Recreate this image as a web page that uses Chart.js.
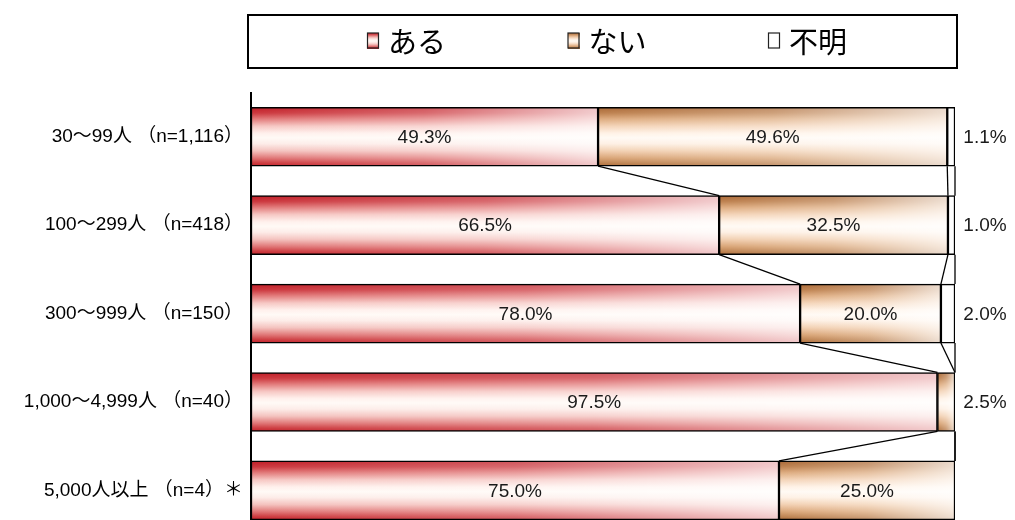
<!DOCTYPE html>
<html lang="ja">
<head>
<meta charset="utf-8">
<title>企業規模別の状況</title>
<script src="https://cdn.jsdelivr.net/npm/chart.js@4.4.1/dist/chart.umd.min.js"></script>
<style>
  html, body { margin: 0; padding: 0; background: #fff; overflow: hidden; }
  #wrap { width: 1015px; height: 520px; overflow: hidden; }
  canvas { display: block; }
</style>
</head>
<body>
<div id="wrap"><canvas id="chart" width="1015" height="554"></canvas></div>
<script>
// Categories (company size) and the share of each answer, in percent
const categories = [
  '30～99人 （n=1,116）',
  '100～299人 （n=418）',
  '300～999人 （n=150）',
  '1,000～4,999人 （n=40）',
  '5,000人以上 （n=4）＊'
];
const seriesNames = ['ある', 'ない', '不明'];
const valuesAru   = [49.3, 66.5, 78.0, 97.5, 75.0];
const valuesNai   = [49.6, 32.5, 20.0,  2.5, 25.0];
const valuesFumei = [ 1.1,  1.0,  2.0,  0.0,  0.0];

const FONT = "'Liberation Sans', 'Noto Sans CJK JP', sans-serif";
const CJK_FONT = "'Noto Sans CJK JP', sans-serif";
const BAR = 59;

// vertical colour profiles for each answer (edge -> centre -> edge)
const profiles = [
  [[0, 'rgb(192,28,38)'], [0.1, 'rgb(204,56,62)'], [0.2, 'rgb(226,122,122)'], [0.32, 'rgb(246,198,194)'],
   [0.44, 'rgb(255,240,236)'], [0.52, 'rgb(255,250,246)'], [0.62, 'rgb(253,236,232)'], [0.74, 'rgb(244,194,190)'],
   [0.86, 'rgb(224,118,118)'], [0.94, 'rgb(206,62,66)'], [1, 'rgb(194,32,42)']],
  [[0, 'rgb(170,104,54)'], [0.1, 'rgb(190,130,80)'], [0.2, 'rgb(222,172,128)'], [0.32, 'rgb(244,212,184)'],
   [0.44, 'rgb(255,242,230)'], [0.52, 'rgb(255,250,244)'], [0.62, 'rgb(254,240,228)'], [0.74, 'rgb(242,208,178)'],
   [0.86, 'rgb(218,166,120)'], [0.94, 'rgb(192,134,84)'], [1, 'rgb(174,110,60)']],
  null
];
const solid = ['rgb(226,120,120)', 'rgb(222,180,140)', '#ffffff'];

function gradientCanvas(stops, w, h, fade) {
  const c = document.createElement('canvas');
  c.width = Math.max(1, Math.ceil(w));
  c.height = Math.max(1, Math.ceil(h));
  const g = c.getContext('2d');
  const vg = g.createLinearGradient(0, 0, 0, h);
  stops.forEach(([o, col]) => vg.addColorStop(o, col));
  g.fillStyle = vg;
  g.fillRect(0, 0, c.width, c.height);
  if (fade) {
    const hg = g.createLinearGradient(0, 0, w, 0);
    hg.addColorStop(0, 'rgba(255,255,255,0)');
    hg.addColorStop(0.5, 'rgba(255,255,255,0.25)');
    hg.addColorStop(1, 'rgba(255,255,255,0.75)');
    g.fillStyle = hg;
    g.fillRect(0, 0, c.width, c.height);
  }
  return c;
}

// per-bar gradient fill positioned on the bar through the chart scales
function barFill(ctx) {
  const ds = ctx.datasetIndex;
  if (ctx.type !== 'data' || !profiles[ds]) return solid[ds];
  const chart = ctx.chart;
  const xs = chart.scales.x, ys = chart.scales.y;
  if (!xs || !ys || !chart.chartArea) return solid[ds];
  const i = ctx.dataIndex;
  let start = 0;
  for (let k = 0; k < ds; k++) start += chart.data.datasets[k].data[i];
  const end = start + chart.data.datasets[ds].data[i];
  const x0 = xs.getPixelForValue(start), x1 = xs.getPixelForValue(end);
  const w = x1 - x0;
  if (w < 2) return solid[ds];
  const top = ys.getPixelForValue(i) - BAR / 2;
  const pat = chart.ctx.createPattern(gradientCanvas(profiles[ds], w, BAR, true), 'no-repeat');
  pat.setTransform(new DOMMatrix([1, 0, 0, 1, x0, top]));
  return pat;
}

// lines joining the stack boundaries of neighbouring bars
const seriesLines = {
  id: 'seriesLines',
  afterDatasetsDraw(chart) {
    const { ctx } = chart;
    const xs = chart.scales.x, ys = chart.scales.y;
    const sets = chart.data.datasets;
    ctx.save();
    ctx.strokeStyle = '#000';
    ctx.lineWidth = 1.3;
    for (let i = 0; i < categories.length - 1; i++) {
      let a = 0, b = 0;
      const yA = ys.getPixelForValue(i) + BAR / 2;
      const yB = ys.getPixelForValue(i + 1) - BAR / 2;
      for (let k = 0; k < sets.length; k++) {
        a += sets[k].data[i];
        b += sets[k].data[i + 1];
        ctx.beginPath();
        ctx.moveTo(xs.getPixelForValue(a), yA);
        ctx.lineTo(xs.getPixelForValue(b), yB);
        ctx.stroke();
      }
    }
    ctx.restore();
  }
};

// percentage labels: inside the segment, or to the right of the bar for thin segments
const valueLabels = {
  id: 'valueLabels',
  afterDatasetsDraw(chart) {
    const { ctx, chartArea } = chart;
    ctx.save();
    ctx.font = '19px ' + FONT;
    ctx.fillStyle = '#1a1a1a';
    ctx.textAlign = 'center';
    ctx.textBaseline = 'middle';
    chart.data.datasets.forEach((set, ds) => {
      const meta = chart.getDatasetMeta(ds);
      meta.data.forEach((el, i) => {
        const v = set.data[i];
        if (!v) return;
        const txt = v.toFixed(1) + '%';
        const x = v < 5 ? chartArea.right + 30 : (el.x + el.base) / 2;
        ctx.fillText(txt, x, el.y + 1);
      });
    });
    ctx.restore();
  }
};

// framed legend above the plot
const boxedLegend = {
  id: 'boxedLegend',
  afterDraw(chart) {
    const { ctx } = chart;
    const box = { left: 248, top: 15, right: 957, bottom: 68 };
    ctx.save();
    ctx.strokeStyle = '#000';
    ctx.lineWidth = 2;
    ctx.strokeRect(box.left, box.top, box.right - box.left, box.bottom - box.top);
    const step = 200.5;
    const sw = 12, sh = 16;
    const cy = (box.top + box.bottom) / 2;
    ctx.font = '29px ' + CJK_FONT;
    ctx.textBaseline = 'middle';
    ctx.textAlign = 'left';
    seriesNames.forEach((name, k) => {
      const sx = box.left + 119 + k * step;
      const sy = cy - sh / 2 - 1;
      if (profiles[k]) {
        ctx.drawImage(gradientCanvas(profiles[k], sw, sh, false), sx, sy);
      } else {
        ctx.fillStyle = '#fff';
        ctx.fillRect(sx, sy, sw, sh);
      }
      ctx.strokeStyle = '#222';
      ctx.lineWidth = 1.2;
      ctx.strokeRect(sx + 0.5, sy + 0.5, sw - 1, sh - 1);
      ctx.fillStyle = '#000';
      ctx.fillText(name, sx + sw + 9, cy);
    });
    ctx.restore();
  }
};

const datasets = [valuesAru, valuesNai, valuesFumei].map((vals, k) => ({
  label: seriesNames[k],
  data: vals,
  backgroundColor: barFill,
  borderColor: '#000',
  borderWidth: 1.5,
  borderSkipped: false,
  barThickness: BAR
}));

new Chart(document.getElementById('chart'), {
  type: 'bar',
  data: { labels: categories, datasets },
  plugins: [seriesLines, valueLabels, boxedLegend],
  options: {
    indexAxis: 'y',
    responsive: false,
    animation: false,
    layout: { padding: { top: 92.5, right: 60, bottom: 0, left: 0 } },
    plugins: { legend: { display: false }, tooltip: { enabled: false } },
    scales: {
      x: { stacked: true, min: 0, max: 100, display: false },
      y: {
        stacked: true,
        grid: { display: false, drawTicks: false },
        border: { display: true, color: '#000', width: 2 },
        ticks: { color: '#000', font: { size: 19, family: FONT }, padding: 8 },
        afterFit(scale) { scale.width = 251; }
      }
    }
  }
});
</script>
</body>
</html>
